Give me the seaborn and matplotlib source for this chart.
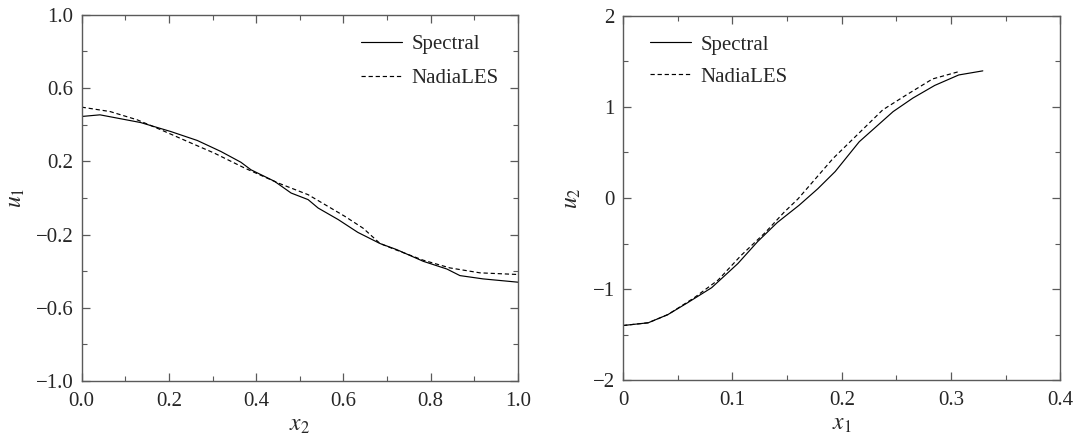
import numpy as np
import pandas as pd
import matplotlib
matplotlib.use("Agg")
import matplotlib.pyplot as plt
from matplotlib.ticker import MultipleLocator, FuncFormatter
import seaborn as sns

# Panel (a): u1 versus x2
x2_spectral = [0.0, 0.042, 0.135, 0.204, 0.265, 0.319, 0.365, 0.388, 0.442, 0.48,
               0.519, 0.542, 0.588, 0.633, 0.684, 0.722, 0.783, 0.837, 0.867, 0.92, 1.0]
u1_spectral = [0.445, 0.454, 0.412, 0.363, 0.314, 0.254, 0.195, 0.154, 0.091, 0.027,
               -0.009, -0.055, -0.118, -0.188, -0.249, -0.282, -0.346, -0.388, -0.424, -0.442, -0.46]
x2_nadia = [0.0, 0.065, 0.127, 0.181, 0.242, 0.304, 0.373, 0.45, 0.519, 0.603,
            0.645, 0.684, 0.722, 0.783, 0.844, 0.913, 1.0]
u1_nadia = [0.496, 0.472, 0.427, 0.373, 0.309, 0.245, 0.164, 0.082, 0.018, -0.10,
            -0.165, -0.249, -0.285, -0.34, -0.382, -0.409, -0.418]

# Panel (b): u2 versus x1
x1_spectral = [0.0, 0.023, 0.041, 0.059, 0.081, 0.105, 0.123, 0.141, 0.161, 0.178,
               0.194, 0.216, 0.247, 0.265, 0.285, 0.307, 0.329]
u2_spectral = [-1.40, -1.37, -1.28, -1.15, -0.985, -0.72, -0.48, -0.27, -0.08, 0.10,
               0.29, 0.617, 0.948, 1.096, 1.235, 1.35, 1.395]
x1_nadia = [0.0, 0.023, 0.041, 0.065, 0.087, 0.108, 0.13, 0.147, 0.16, 0.192,
            0.2375, 0.259, 0.283, 0.306]
u2_nadia = [-1.40, -1.37, -1.28, -1.096, -0.90, -0.63, -0.38, -0.16, -0.01, 0.433,
            0.967, 1.13, 1.306, 1.383]

labels = ["Spectral", "NadiaLES"]

sns.set_style("ticks")
plt.rcParams["font.family"] = ["Liberation Serif", "DejaVu Serif"]
plt.rcParams["mathtext.fontset"] = "stix"
plt.rcParams["axes.unicode_minus"] = True

fig = plt.figure(figsize=(10.8, 4.37), dpi=100)
ax1 = fig.add_axes([0.0756, 0.128, 0.404, 0.838])
ax2 = fig.add_axes([0.5769, 0.130, 0.405, 0.834])

spine_col = "#5a5a5a"


def minus_fmt(fmt):
    return FuncFormatter(lambda v, pos: (fmt % v).replace("-", "\u2212"))


def draw(ax, xs, ys, names):
    for x, y, name, ls in zip(xs, ys, names, ["-", (0, (3.6, 2.4))]):
        df = pd.DataFrame({"x": x, "y": y})
        sns.lineplot(data=df, x="x", y="y", ax=ax, color="black", lw=0.85,
                     linestyle=ls, label=name, sort=False, estimator=None)
    for s in ax.spines.values():
        s.set_color(spine_col)
        s.set_linewidth(1.0)
    ax.tick_params(which="both", direction="in", top=True, right=True,
                   color=spine_col, labelsize=15)
    ax.tick_params(axis="x", which="both", pad=8)
    ax.tick_params(axis="y", which="both", pad=6)
    ax.tick_params(which="major", length=6, width=0.9)
    ax.tick_params(which="minor", length=3.5, width=0.8)


def legend(ax, fx, spacing):
    ax.legend(loc="upper left", bbox_to_anchor=(fx, 0.947), frameon=False,
              fontsize=15, handlelength=1.95, handletextpad=0.45,
              labelspacing=spacing, borderpad=0, borderaxespad=0)


draw(ax1, [x2_spectral, x2_nadia], [u1_spectral, u1_nadia], labels)
ax1.set_xlim(0, 1.0)
ax1.set_ylim(-1.0, 1.0)
ax1.xaxis.set_major_locator(MultipleLocator(0.2))
ax1.xaxis.set_minor_locator(MultipleLocator(0.1))
ax1.yaxis.set_minor_locator(MultipleLocator(0.2))
ax1.set_yticks([-1.0, -0.6, -0.2, 0.2, 0.6, 1.0])
ax1.xaxis.set_major_formatter(minus_fmt("%.1f"))
ax1.yaxis.set_major_formatter(minus_fmt("%.1f"))
ax1.set_xlabel("$x_2$", fontsize=17, labelpad=3)
ax1.set_ylabel("$u_1$", fontsize=17, labelpad=6)
legend(ax1, 0.641, 0.72)

draw(ax2, [x1_spectral, x1_nadia], [u2_spectral, u2_nadia], labels)
ax2.set_xlim(0, 0.4)
ax2.set_ylim(-2, 2)
ax2.xaxis.set_minor_locator(MultipleLocator(0.05))
ax2.yaxis.set_major_locator(MultipleLocator(1))
ax2.yaxis.set_minor_locator(MultipleLocator(0.5))
ax2.yaxis.set_major_formatter(minus_fmt("%d"))
ax2.set_xticks([0, 0.1, 0.2, 0.3, 0.4])
ax2.set_xticklabels(["0", "0.1", "0.2", "0.3", "0.4"])
ax2.set_xlabel("$x_1$", fontsize=17, labelpad=3)
ax2.set_ylabel("$u_2$", fontsize=17, labelpad=7)
legend(ax2, 0.062, 0.6)

fig.savefig("out.png", dpi=100)
